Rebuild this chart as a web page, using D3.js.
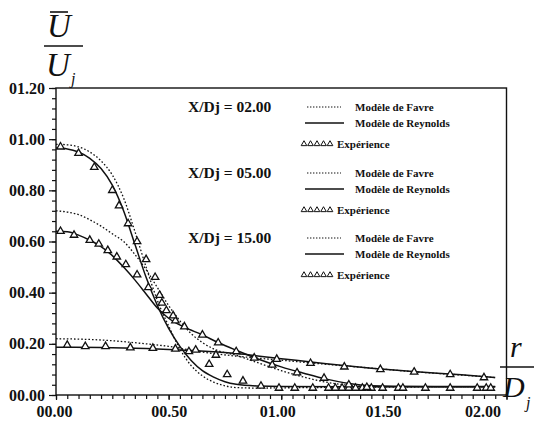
<!DOCTYPE html>
<html>
<head>
<meta charset="utf-8">
<script src="https://cdn.jsdelivr.net/npm/d3@7"></script>
<style>
  body { margin: 0; background: #fff; }
  svg { display: block; }
  text { font-family: "Liberation Serif", "Times New Roman", serif; fill: #111; }
</style>
</head>
<body>
<svg width="534" height="421"></svg>
<script>
// ---- data (r/Dj, U/Uj) ----
const xMajor = [0, 0.5, 1.0, 1.5, 2.0];
const yMajor = [0, 0.2, 0.4, 0.6, 0.8, 1.0, 1.2];

const favre02 = [[0,0.98],[0.05,0.978],[0.1,0.97],[0.15,0.95],[0.2,0.915],[0.25,0.86],[0.3,0.77],[0.35,0.64],[0.4,0.50],[0.45,0.37],[0.5,0.27],[0.55,0.18],[0.6,0.115],[0.65,0.075],[0.7,0.05],[0.75,0.036],[0.8,0.029],[0.9,0.027],[1.0,0.028],[1.5,0.031],[1.95,0.032]];
const reynolds02 = [[0,0.965],[0.05,0.962],[0.1,0.95],[0.15,0.925],[0.2,0.885],[0.25,0.82],[0.3,0.72],[0.35,0.59],[0.4,0.46],[0.45,0.35],[0.5,0.26],[0.55,0.19],[0.6,0.135],[0.65,0.095],[0.7,0.07],[0.75,0.052],[0.8,0.042],[0.9,0.035],[1.0,0.033],[1.5,0.032],[1.95,0.032]];
const exp02 = [[0.02,0.97],[0.10,0.945],[0.17,0.89],[0.25,0.8],[0.28,0.74],[0.32,0.67],[0.36,0.6],[0.40,0.53],[0.44,0.46],[0.46,0.39],[0.49,0.33],[0.53,0.29],[0.59,0.17],[0.68,0.12],[0.76,0.08],[0.83,0.055],[0.91,0.035],[0.99,0.027],[1.06,0.027],[1.14,0.027],[1.21,0.027],[1.24,0.027],[1.27,0.027],[1.30,0.027],[1.33,0.027],[1.36,0.027],[1.40,0.027]];

const favre05 = [[0,0.72],[0.05,0.715],[0.1,0.705],[0.15,0.685],[0.2,0.66],[0.25,0.63],[0.3,0.6],[0.35,0.55],[0.4,0.49],[0.45,0.42],[0.5,0.35],[0.55,0.29],[0.6,0.24],[0.65,0.205],[0.7,0.18],[0.8,0.155],[0.9,0.125],[1.0,0.095],[1.1,0.07],[1.2,0.05],[1.3,0.038],[1.4,0.033],[1.95,0.032]];
const reynolds05 = [[0,0.64],[0.05,0.638],[0.1,0.625],[0.15,0.605],[0.2,0.58],[0.25,0.545],[0.3,0.5],[0.35,0.45],[0.4,0.395],[0.45,0.34],[0.5,0.3],[0.57,0.265],[0.65,0.235],[0.72,0.205],[0.8,0.175],[0.9,0.14],[1.0,0.11],[1.1,0.085],[1.2,0.062],[1.3,0.045],[1.4,0.036],[1.5,0.034],[1.95,0.033]];
const exp05 = [[0.02,0.64],[0.08,0.625],[0.15,0.605],[0.19,0.59],[0.23,0.565],[0.27,0.54],[0.31,0.51],[0.36,0.47],[0.41,0.42],[0.47,0.36],[0.52,0.31],[0.57,0.267],[0.65,0.235],[0.72,0.204],[0.80,0.17],[0.96,0.117],[1.07,0.087],[1.19,0.066],[1.30,0.04],[1.38,0.03],[1.45,0.027],[1.52,0.027],[1.54,0.027],[1.64,0.027],[1.75,0.027],[1.87,0.027],[1.91,0.027],[1.93,0.027]];

const favre15 = [[0,0.22],[0.2,0.215],[0.4,0.2],[0.5,0.19],[0.6,0.175],[0.7,0.162],[0.8,0.152],[1.0,0.136],[1.2,0.12],[1.4,0.105],[1.6,0.09],[1.8,0.078],[1.95,0.068]];
const reynolds15 = [[0,0.187],[0.2,0.186],[0.4,0.182],[0.6,0.174],[0.8,0.162],[1.0,0.142],[1.2,0.122],[1.4,0.105],[1.6,0.091],[1.8,0.079],[1.95,0.068]];
const exp15 = [[0.05,0.195],[0.13,0.19],[0.22,0.19],[0.33,0.185],[0.43,0.183],[0.53,0.18],[0.62,0.176],[0.71,0.156],[0.88,0.145],[0.98,0.14],[1.13,0.124],[1.28,0.11],[1.44,0.1],[1.59,0.09],[1.75,0.08],[1.9,0.068]];

const groupTitles = ["X/Dj = 02.00", "X/Dj = 05.00", "X/Dj = 15.00"];
const legendLabels = ["Modèle de Favre", "Modèle de Reynolds", "Expérience"];

// ---- drawing ----
let svg = d3.select("svg");
let x = d3.scaleLinear().domain([0, 2]).range([56, 506.5]);
let y = d3.scaleLinear().domain([0, 1.2]).range([395, 88]);
let fmt = d3.format("05.2f");

// frame
svg.append("rect")
    .attr("x", x(0)).attr("y", y(1.2))
    .attr("width", x(2) - x(0)).attr("height", y(0) - y(1.2))
    .attr("fill", "none").attr("stroke", "#111").attr("stroke-width", 1.4);

// minor ticks
svg.append("g")
    .attr("transform", "translate(" + x(0) + ",0)")
    .call(d3.axisLeft(y).tickValues(d3.range(0, 1.2001, 0.04)).tickSize(4).tickFormat(""))
    .call(g => g.select(".domain").remove());
svg.append("g")
    .attr("transform", "translate(0," + y(0) + ")")
    .call(d3.axisBottom(x).tickValues(d3.range(0, 2.0001, 0.05)).tickSize(4).tickFormat(""))
    .call(g => g.select(".domain").remove());

// major ticks + labels
let yAxis = svg.append("g")
    .attr("transform", "translate(" + x(0) + ",0)")
    .call(d3.axisLeft(y).tickValues(yMajor).tickSize(7).tickPadding(4).tickFormat(fmt));
yAxis.select(".domain").remove();
let xAxis = svg.append("g")
    .attr("transform", "translate(0," + y(0) + ")")
    .call(d3.axisBottom(x).tickValues(xMajor).tickSize(5).tickPadding(6).tickFormat(fmt));
xAxis.select(".domain").remove();
// the original's bottom labels drift left as r grows
let labelShift = [-2, 0, -4, -11, -24];
xAxis.selectAll(".tick text").attr("dx", (d, i) => labelShift[i]);

svg.selectAll(".tick line").attr("stroke", "#111").attr("stroke-width", 1.2);
svg.selectAll(".tick text")
    .style("font-family", "'Liberation Serif', serif")
    .style("font-size", "16px")
    .style("font-weight", "bold")
    .attr("fill", "#111");

// curves
let line = d3.line()
    .x(d => x(d[0]))
    .y(d => y(d[1]))
    .curve(d3.curveMonotoneX);

[favre02, favre05, favre15].forEach(function(s) {
    svg.append("path").attr("d", line(s))
        .attr("fill", "none").attr("stroke", "#111")
        .attr("stroke-width", 1.3).attr("stroke-dasharray", "1.6,2");
});
[reynolds02, reynolds05, reynolds15].forEach(function(s) {
    svg.append("path").attr("d", line(s))
        .attr("fill", "none").attr("stroke", "#111")
        .attr("stroke-width", 1.5);
});

let tri = d3.symbol().type(d3.symbolTriangle).size(24);
[exp02, exp05, exp15].forEach(function(s) {
    svg.append("g").selectAll("path")
        .data(s).enter()
        .append("path")
        .attr("d", tri)
        .attr("transform", d => "translate(" + x(d[0]) + "," + y(d[1]) + ")")
        .attr("fill", "#fff").attr("stroke", "#111").attr("stroke-width", 1.3);
});

// legend
let groupY = [107, 173, 238];
let smallTri = d3.symbol().type(d3.symbolTriangle).size(14);
groupTitles.forEach(function(t, i) {
    let g = svg.append("g").attr("transform", "translate(0," + groupY[i] + ")");
    g.append("text").attr("x", 188).attr("y", 5)
        .style("font-size", "15.5px").style("font-weight", "bold").text(t);
    g.append("line").attr("x1", 307).attr("x2", 341).attr("y1", 0).attr("y2", 0)
        .attr("stroke", "#111").attr("stroke-width", 1.2).attr("stroke-dasharray", "1.4,1.6");
    g.append("line").attr("x1", 305).attr("x2", 344).attr("y1", 16).attr("y2", 16)
        .attr("stroke", "#111").attr("stroke-width", 1.6);
    g.selectAll("path.lt").data(d3.range(5)).enter()
        .append("path").attr("class", "lt")
        .attr("d", smallTri)
        .attr("transform", k => "translate(" + (304 + k * 6.5) + ",37)")
        .attr("fill", "#fff").attr("stroke", "#111").attr("stroke-width", 1);
    legendLabels.forEach(function(l, j) {
        g.append("text")
            .attr("x", j == 2 ? 337 : 355)
            .attr("y", [4, 20, 41][j])
            .style("font-size", "11px").style("font-weight", "bold").text(l);
    });
});

// axis titles
let ylab = svg.append("g").style("font-style", "italic");
ylab.append("text").attr("x", 47).attr("y", 37).style("font-size", "33px").text("U");
ylab.append("line").attr("x1", 50).attr("x2", 68).attr("y1", 12).attr("y2", 12).attr("stroke", "#111").attr("stroke-width", 1.6);
ylab.append("line").attr("x1", 44).attr("x2", 83).attr("y1", 46).attr("y2", 46).attr("stroke", "#111").attr("stroke-width", 1.6);
ylab.append("text").attr("x", 46).attr("y", 76).style("font-size", "33px").text("U");
ylab.append("text").attr("x", 71).attr("y", 84).style("font-size", "16px").text("j");

let xlab = svg.append("g").style("font-style", "italic");
xlab.append("text").attr("x", 510).attr("y", 357).style("font-size", "30px").text("r");
xlab.append("line").attr("x1", 500).attr("x2", 534).attr("y1", 367).attr("y2", 367).attr("stroke", "#111").attr("stroke-width", 1.6);
xlab.append("text").attr("x", 503).attr("y", 397).style("font-size", "30px").text("D");
xlab.append("text").attr("x", 526).attr("y", 408).style("font-size", "16px").text("j");
</script>
</body>
</html>
